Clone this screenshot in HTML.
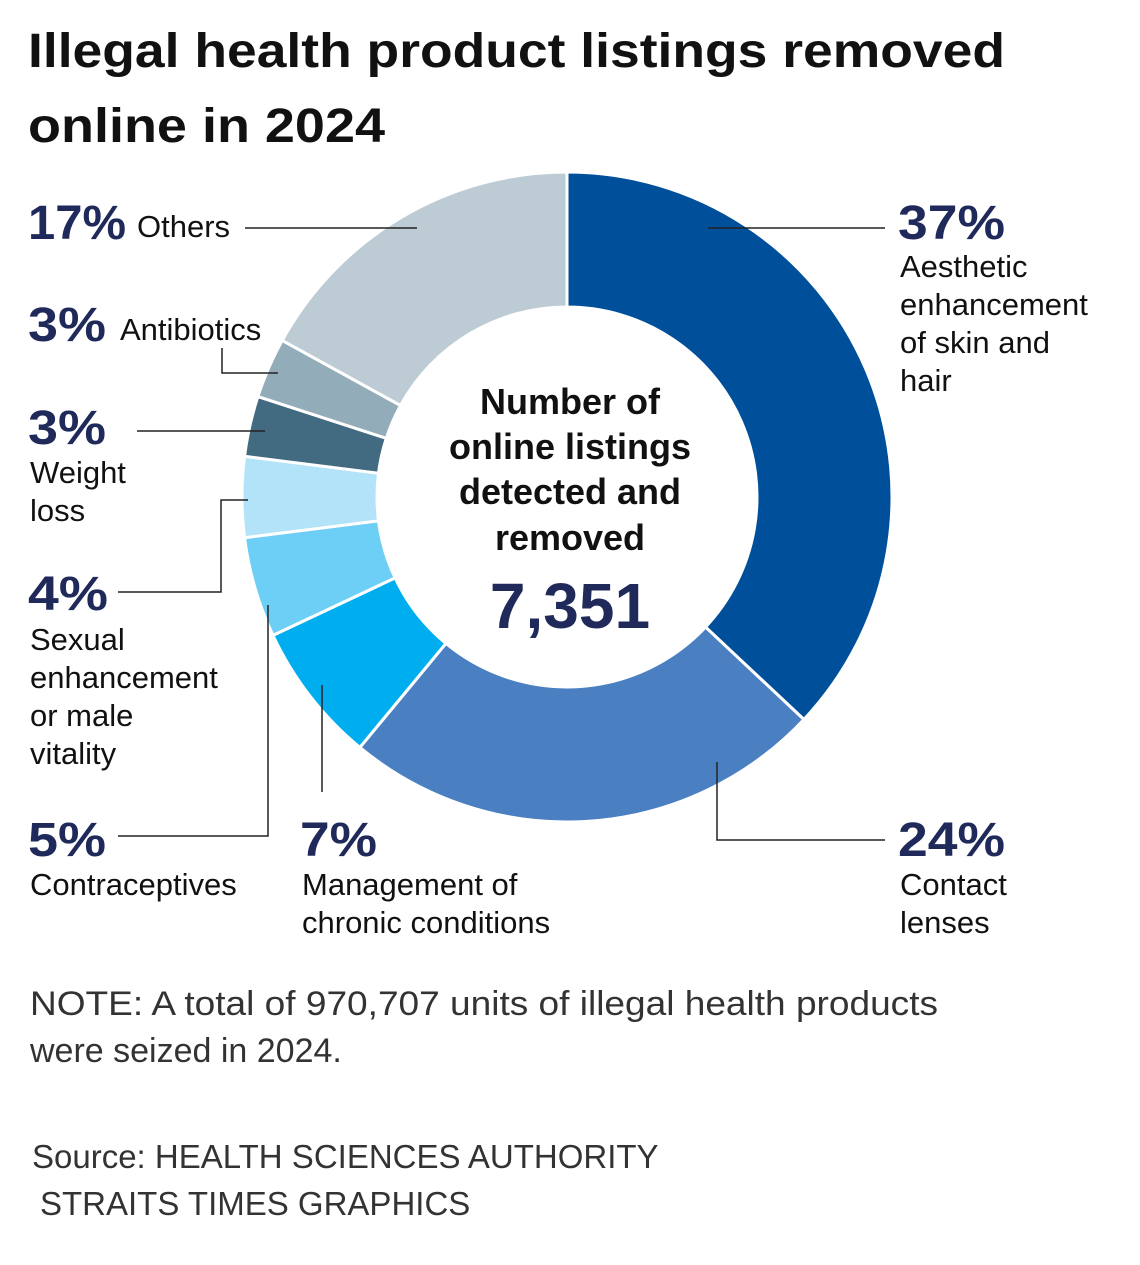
<!DOCTYPE html>
<html><head><meta charset="utf-8">
<style>
body{margin:0;background:#fff;}
#c{width:1140px;height:1265px;position:relative;overflow:hidden;background:#fff;}
svg text{font-family:"Liberation Sans",sans-serif;}
</style></head>
<body>
<div id="c">
<svg id="s" width="1140" height="1265">
<text x="28" y="67" font-size="48" font-weight="bold" fill="#111" textLength="977" lengthAdjust="spacingAndGlyphs">Illegal health product listings removed</text>
<text x="28" y="142" font-size="48" font-weight="bold" fill="#111" textLength="357" lengthAdjust="spacingAndGlyphs">online in 2024</text>
<g id="slices"></g>
<g stroke="#222" stroke-width="1.5" fill="none">
<polyline points="245,228 417,228"/>
<polyline points="708,228 885,228"/>
<polyline points="222,348 222,373 278,373"/>
<polyline points="137,431 265,431"/>
<polyline points="118,592 221,592 221,500 248,500"/>
<polyline points="118,836 268,836 268,605"/>
<polyline points="322,685 322,792"/>
<polyline points="717,762 717,840 885,840"/>
</g>
<g fill="#1f2a5a" font-weight="bold" font-size="48" lengthAdjust="spacingAndGlyphs">
<text x="28" y="239" textLength="98" lengthAdjust="spacingAndGlyphs">17%</text>
<text x="28" y="341" textLength="78" lengthAdjust="spacingAndGlyphs">3%</text>
<text x="28" y="444" textLength="78" lengthAdjust="spacingAndGlyphs">3%</text>
<text x="28" y="610" textLength="80" lengthAdjust="spacingAndGlyphs">4%</text>
<text x="28" y="856" textLength="78" lengthAdjust="spacingAndGlyphs">5%</text>
<text x="300" y="856" textLength="77" lengthAdjust="spacingAndGlyphs">7%</text>
<text x="898" y="239" textLength="107" lengthAdjust="spacingAndGlyphs">37%</text>
<text x="898" y="856" textLength="107" lengthAdjust="spacingAndGlyphs">24%</text>
</g>
<g fill="#111" font-size="31">
<text x="137" y="237">Others</text>
<text x="120" y="340">Antibiotics</text>
<text x="30" y="483"><tspan x="30">Weight</tspan><tspan x="30" dy="38">loss</tspan></text>
<text x="30" y="650"><tspan x="30">Sexual</tspan><tspan x="30" dy="38">enhancement</tspan><tspan x="30" dy="38">or male</tspan><tspan x="30" dy="38">vitality</tspan></text>
<text x="30" y="895">Contraceptives</text>
<text x="302" y="895"><tspan x="302">Management of</tspan><tspan x="302" dy="38">chronic conditions</tspan></text>
<text x="900" y="277"><tspan x="900">Aesthetic</tspan><tspan x="900" dy="38">enhancement</tspan><tspan x="900" dy="38">of skin and</tspan><tspan x="900" dy="38">hair</tspan></text>
<text x="900" y="895"><tspan x="900">Contact</tspan><tspan x="900" dy="38">lenses</tspan></text>
</g>
<g fill="#111" font-weight="bold" font-size="36" text-anchor="middle">
<text x="570" y="414">Number of</text>
<text x="570" y="459">online listings</text>
<text x="570" y="504">detected and</text>
<text x="570" y="550">removed</text>
</g>
<text x="570" y="628" text-anchor="middle" font-size="64" font-weight="bold" fill="#1f2a5a">7,351</text>
<g fill="#333" font-size="34">
<text x="30" y="1015"><tspan x="30" textLength="908" lengthAdjust="spacingAndGlyphs">NOTE: A total of 970,707 units of illegal health products</tspan><tspan x="30" dy="47">were seized in 2024.</tspan></text>
<text x="32" y="1168" font-size="33"><tspan x="32">Source: HEALTH SCIENCES AUTHORITY</tspan><tspan x="40" dy="47">STRAITS TIMES GRAPHICS</tspan></text>
</g>
</svg>
</div>
<script>
const categories = ["Aesthetic enhancement","Contact lenses","Management of chronic conditions","Contraceptives","Sexual enhancement","Weight loss","Antibiotics","Others"];
const values = [37,24,7,5,4,3,3,17];
const colors = ["#004f9a","#4a80c2","#00aeef","#6dcff6","#b3e3f8","#426a80","#93acb9","#bccbd4"];
const cx=567, cy=497, R=325, r=190;
const total = values.reduce((a,b)=>a+b,0);
const g=document.getElementById('slices');
const ns="http://www.w3.org/2000/svg";
function pt(rad,a){return [cx+rad*Math.sin(a), cy-rad*Math.cos(a)];}
let acc=0;
values.forEach((v,i)=>{
  const a0=acc/total*2*Math.PI; acc+=v; const a1=acc/total*2*Math.PI;
  const large=(a1-a0)>Math.PI?1:0;
  const p0=pt(R,a0),p1=pt(R,a1),q1=pt(r,a1),q0=pt(r,a0);
  const p=document.createElementNS(ns,'path');
  p.setAttribute('d',`M${p0[0]},${p0[1]} A${R},${R} 0 ${large} 1 ${p1[0]},${p1[1]} L${q1[0]},${q1[1]} A${r},${r} 0 ${large} 0 ${q0[0]},${q0[1]} Z`);
  p.setAttribute('fill',colors[i]);
  p.setAttribute('stroke','#fff');
  p.setAttribute('stroke-width','3');
  
  
  g.appendChild(p);
});
</script>
</body></html>
